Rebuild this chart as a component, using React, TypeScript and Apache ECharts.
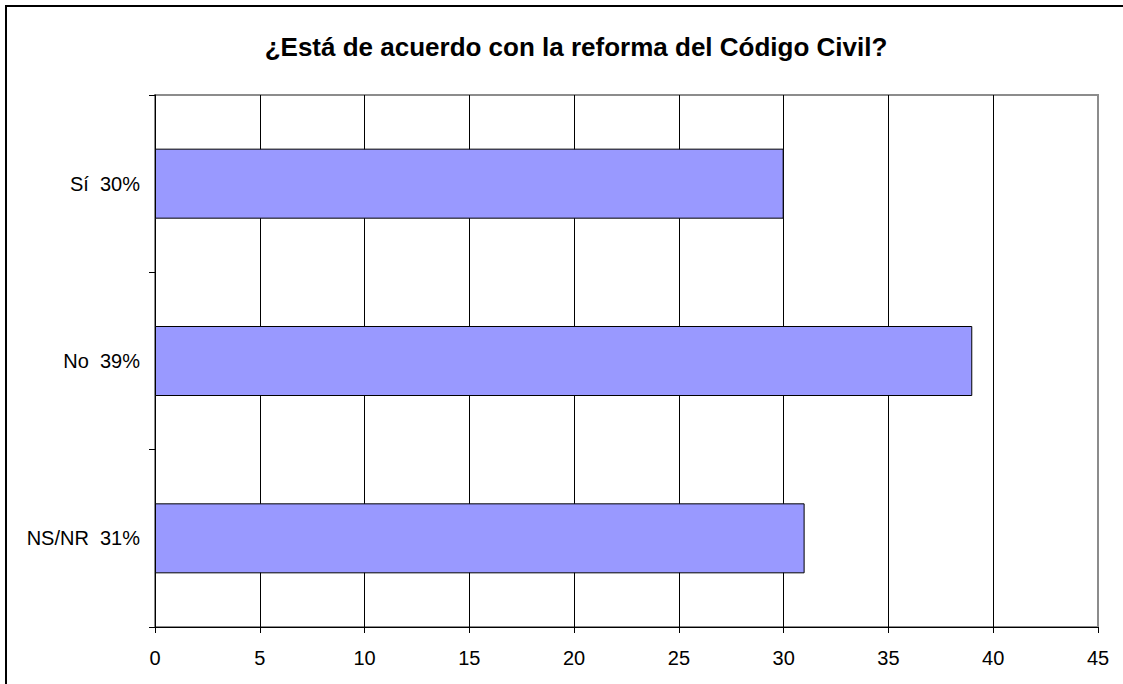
import React, { useEffect, useRef } from "react";
import * as echarts from "echarts";

const categories = ["Sí  30%", "No  39%", "NS/NR  31%"];
const values = [30, 39, 31];
const titleText = "¿Está de acuerdo con la reforma del Código Civil?";
const xMin = 0;
const xMax = 45;
const xStep = 5;

const FONT = "'Liberation Sans', Arial, sans-serif";

export default function App() {
  const ref = useRef<HTMLDivElement>(null);
  useEffect(() => {
    if (!ref.current) return;
    const chart = echarts.init(ref.current, undefined, { renderer: "svg" });
    chart.setOption({
      animation: false,
      backgroundColor: "#ffffff",
      title: {
        text: titleText,
        left: 571,
        top: 29,
        textAlign: "center",
        textStyle: { fontFamily: FONT, fontSize: 26, fontWeight: "bold", color: "#000" },
      },
      graphic: [
        {
          type: "rect",
          shape: { x: 6, y: 6, width: 1140, height: 700 },
          style: { fill: "none", stroke: "#000", lineWidth: 2 },
          silent: true,
        },
      ],
      grid: {
        left: 155,
        right: 25,
        top: 95,
        bottom: 57,
        show: true,
        borderColor: "#8c8c8c",
        borderWidth: 2,
        backgroundColor: "transparent",
      },
      xAxis: {
        type: "value",
        min: xMin,
        max: xMax,
        interval: xStep,
        axisLine: { show: true, lineStyle: { color: "#000", width: 1 } },
        axisTick: { show: true, length: 6, inside: false, lineStyle: { color: "#000" } },
        axisLabel: { color: "#000", fontFamily: FONT, fontSize: 20, margin: 21 },
        splitLine: { show: true, showMaxLine: false, showMinLine: false, lineStyle: { color: "#000", width: 1 } },
      },
      yAxis: {
        type: "category",
        data: categories,
        inverse: true,
        axisLine: { show: true, lineStyle: { color: "#000", width: 1 } },
        axisTick: { show: true, length: 6, inside: false, alignWithLabel: false, lineStyle: { color: "#000" } },
        axisLabel: { color: "#000", fontFamily: FONT, fontSize: 20, margin: 15 },
        splitLine: { show: false },
      },
      series: [
        {
          type: "bar",
          data: values,
          barWidth: 70,
          itemStyle: { color: "#9999FF", borderColor: "#000", borderWidth: 1 },
        },
      ],
    });
    return () => chart.dispose();
  }, []);
  return (
    <div
      ref={ref}
      style={{ position: "fixed", left: 0, top: 0, width: 1123, height: 684 }}
    />
  );
}
